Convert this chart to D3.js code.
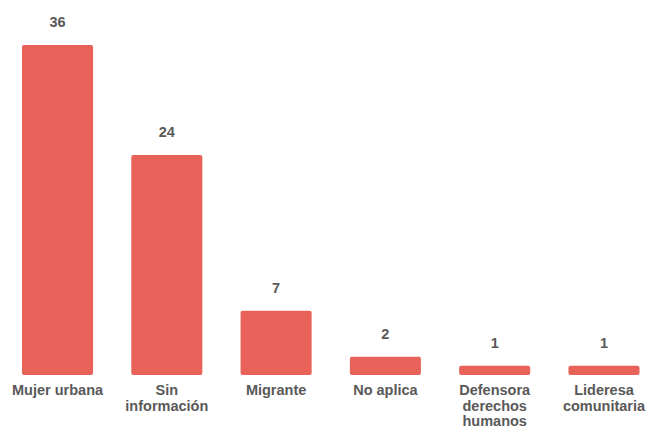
<!DOCTYPE html>
<html>
<head>
<meta charset="utf-8">
<script src="https://cdn.jsdelivr.net/npm/d3@7"></script>
<style>
  body { margin: 0; background: #fff; }
  text { font-family: "Liberation Sans", Arial, sans-serif; font-weight: bold; fill: #595959; }
</style>
</head>
<body>
<div class="canvas"></div>
<script>
// data
const categories = [
  ['Mujer urbana'],
  ['Sin', 'información'],
  ['Migrante'],
  ['No aplica'],
  ['Defensora', 'derechos', 'humanos'],
  ['Lideresa', 'comunitaria']
];
const values = [36, 24, 7, 2, 1, 1];

const dims = { width: 648, height: 427 };
const svg = d3.select('.canvas')
              .append('svg')
              .attr('width', dims.width)
              .attr('height', dims.height);

const baseY = 375;

// scales
const x = d3.scaleBand()
            .domain(d3.range(categories.length))
            .range([22, 639.5])
            .paddingInner(0.35)
            .paddingOuter(0);

const y = d3.scaleLinear()
            .domain([0, 36])
            .range([baseY, 45]);

// bars
svg.selectAll('.bar')
   .data(values)
   .enter()
   .append('rect')
   .attr('class', 'bar')
   .attr('x', (d, i) => x(i))
   .attr('y', d => y(d))
   .attr('width', x.bandwidth())
   .attr('height', d => baseY - y(d))
   .attr('rx', 2)
   .attr('fill', '#e8625a');

// value labels
svg.selectAll('.val')
   .data(values)
   .enter()
   .append('text')
   .attr('class', 'val')
   .attr('x', (d, i) => x(i) + x.bandwidth() / 2)
   .attr('y', d => y(d) - 18)
   .attr('text-anchor', 'middle')
   .style('font-size', '14.5px')
   .text(d => d);

// category labels (multi-line)
const labels = svg.selectAll('.cat')
                  .data(categories)
                  .enter()
                  .append('text')
                  .attr('class', 'cat')
                  .attr('text-anchor', 'middle')
                  .style('font-size', '14.5px')
                  .attr('transform', (d, i) => `translate(${x(i) + x.bandwidth() / 2}, 395)`);

labels.selectAll('tspan')
      .data(d => d)
      .enter()
      .append('tspan')
      .attr('x', 0)
      .attr('y', (d, i) => i * 15.5)
      .text(d => d);
</script>
</body>
</html>
